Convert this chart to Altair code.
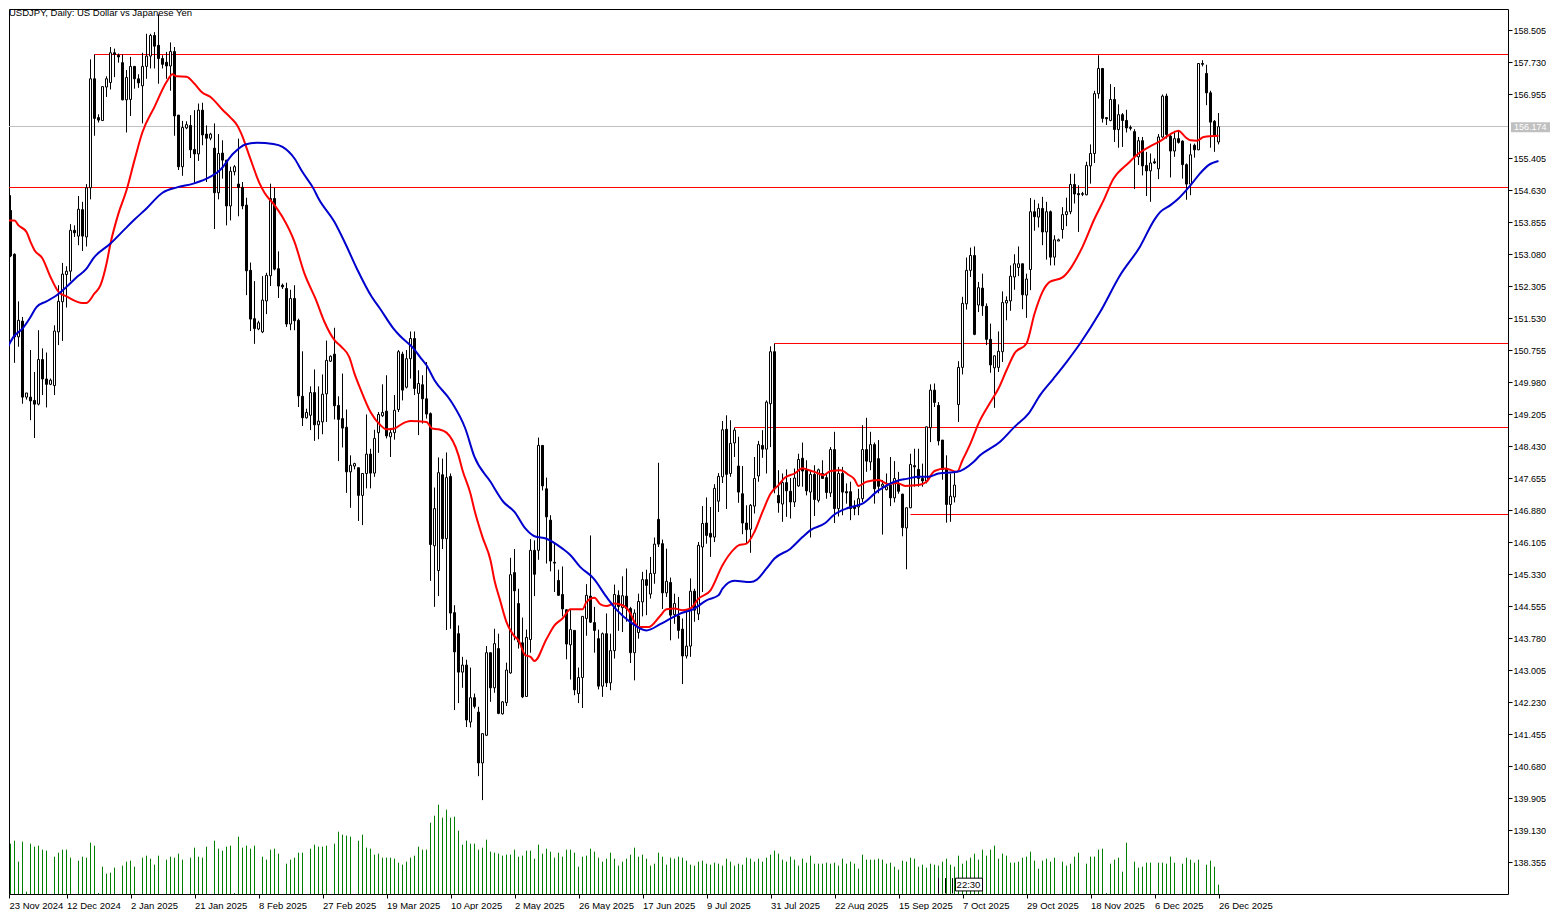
import json
import pandas as pd
import altair as alt

# daily candles, one value per slot on the time axis (weekend slots stay in)
opens = [
    154.55,154.17,154.14,153.08,151.08,151.46,149.62,149.62,149.54,149.45,
    150.53,150.06,149.93,149.90,151.20,151.93,152.59,152.67,153.66,153.52,
    154.16,153.50,154.69,157.33,156.39,156.32,157.13,157.24,157.96,157.90,
    157.72,156.82,156.83,157.63,157.33,157.16,157.63,157.88,158.38,158.14,
    157.82,157.73,157.64,157.99,156.45,155.20,156.14,156.20,155.62,155.51,
    156.57,155.99,155.89,155.65,154.57,155.53,155.36,154.25,155.08,154.78,
    154.70,154.27,152.69,151.52,151.27,151.20,151.95,152.56,154.43,152.73,
    152.33,152.25,151.39,152.01,151.48,149.64,149.12,149.18,149.73,148.95,
    149.02,149.70,150.49,150.66,149.42,149.10,148.89,147.81,147.95,147.91,
    147.24,147.77,148.24,147.78,148.76,149.17,149.28,148.66,148.76,149.32,
    150.66,149.86,150.55,151.04,149.71,149.92,149.58,149.22,146.02,145.42,
    147.74,146.19,147.70,144.40,143.89,142.96,143.13,141.75,142.34,141.99,
    140.76,141.43,143.43,142.58,143.53,141.95,142.22,142.94,145.37,144.62,
    143.67,142.37,143.75,145.91,145.91,148.45,147.40,146.64,145.62,145.18,
    144.84,144.47,143.62,143.97,142.44,142.83,144.26,144.80,144.16,143.77,
    142.62,143.89,142.70,143.48,144.82,144.52,144.80,144.50,143.43,143.92,
    144.66,145.20,144.85,145.35,146.66,146.07,144.88,145.13,144.35,144.32,
    144.00,143.35,143.59,144.92,144.37,145.99,146.57,146.32,146.23,147.10,
    147.69,148.84,147.77,148.51,147.95,147.28,146.57,146.42,146.98,147.71,
    148.45,148.36,149.46,150.72,147.24,147.03,147.55,147.34,147.08,147.47,
    148.14,147.85,147.32,147.75,147.12,147.77,147.67,147.30,148.35,146.92,
    147.77,147.33,147.33,146.96,146.96,147.16,148.35,148.05,148.47,148.13,
    147.46,147.38,147.49,147.18,147.53,147.27,146.45,146.94,147.96,147.87,
    147.65,147.59,148.88,149.79,149.42,148.58,147.87,147.02,147.20,149.44,
    150.34,151.88,152.69,153.05,151.85,152.26,151.82,151.02,150.33,150.34,
    150.72,151.90,151.95,152.53,152.76,152.85,152.09,152.71,154.11,153.98,
    154.19,153.62,154.11,153.01,153.40,153.68,154.04,154.11,154.77,154.55,
    154.53,154.52,155.22,155.52,156.97,157.58,156.39,156.32,156.83,156.10,
    156.46,156.32,156.15,156.05,155.44,155.83,155.23,155.10,155.32,155.15,
    155.92,156.91,155.94,155.58,155.88,155.82,155.25,154.78,155.72,155.61,
    157.70,157.46,156.99,156.30,155.80,
]
closes = [
    154.39,154.13,153.04,151.08,151.48,149.62,149.72,149.53,149.45,150.53,
    150.06,149.93,150.03,151.22,151.94,152.60,152.67,153.66,153.60,154.17,
    153.52,154.69,157.33,156.37,156.33,157.14,157.33,157.96,157.92,157.86,
    156.82,157.36,157.63,157.33,157.23,157.63,157.88,158.38,158.12,157.82,
    157.68,157.64,157.99,156.43,155.20,156.15,156.22,155.61,155.51,156.57,
    155.97,155.89,155.99,154.57,155.52,155.36,154.25,155.09,155.20,154.70,
    154.25,152.68,151.51,151.28,151.42,151.97,152.57,154.43,152.72,152.31,
    152.29,151.39,152.01,151.47,149.65,149.12,149.25,149.73,148.95,149.04,
    149.69,150.51,150.61,149.41,149.08,148.87,147.81,147.97,148.01,147.24,
    147.77,148.24,147.78,148.62,149.20,149.25,148.68,148.76,149.30,150.72,
    149.79,150.55,151.04,149.83,149.95,149.58,149.21,146.05,146.92,147.79,
    146.19,147.67,144.39,143.45,142.96,143.13,141.80,142.34,142.13,140.76,
    141.47,143.43,142.58,143.65,141.96,142.24,143.01,145.32,144.93,143.69,
    142.36,143.80,145.91,145.33,148.45,147.47,146.72,145.65,145.60,144.82,
    144.49,143.64,143.99,142.53,142.83,144.31,144.82,144.17,143.97,142.62,
    143.89,142.70,143.48,144.84,144.55,144.81,144.50,143.43,144.39,144.67,
    145.20,145.06,145.35,146.06,146.06,144.88,145.16,144.34,144.62,143.97,
    143.35,143.59,144.92,144.46,146.03,146.56,146.27,146.23,147.41,147.70,
    148.83,147.75,148.50,148.82,147.32,146.57,146.41,147.00,147.65,148.47,
    148.36,149.50,150.72,147.40,147.06,147.55,147.35,147.08,147.66,148.11,
    147.83,147.35,147.75,147.14,147.86,147.65,147.31,148.35,146.92,147.77,
    147.32,147.30,146.92,146.92,147.16,148.35,148.07,148.47,147.40,147.46,
    147.51,147.45,147.18,147.65,147.34,146.46,146.94,147.99,147.93,147.65,
    147.59,148.90,149.79,149.49,148.56,147.87,147.02,147.22,147.49,150.34,
    151.89,152.69,153.05,151.14,152.27,151.83,151.02,150.40,150.62,150.73,
    151.91,151.96,152.55,152.85,152.85,152.10,152.48,154.11,153.99,154.19,
    153.62,154.11,153.01,153.43,153.43,154.04,154.11,154.77,154.54,154.52,
    154.55,155.23,155.52,156.97,157.58,156.37,156.36,156.83,156.10,156.46,
    156.32,156.14,156.13,155.44,155.83,155.22,155.10,155.29,155.29,155.92,
    156.91,155.98,155.58,155.88,155.79,155.25,154.78,155.49,155.61,157.70,
    157.68,156.99,156.28,155.95,156.17,
]
highs = [
    154.85,154.71,154.51,153.10,151.94,151.56,149.72,150.76,150.23,151.24,
    150.80,150.70,150.07,151.36,152.33,152.87,152.79,153.81,153.78,154.49,
    154.35,154.78,157.80,157.92,156.47,157.14,157.39,158.10,158.06,157.94,
    157.92,157.54,157.86,157.63,157.44,157.96,158.42,158.42,158.46,158.89,
    157.90,157.98,158.21,158.10,156.45,156.31,156.30,156.45,156.57,156.73,
    156.75,156.20,156.02,156.25,155.99,155.84,155.36,155.20,155.24,155.88,
    154.83,154.45,152.88,152.43,151.47,152.55,152.63,154.79,154.69,153.15,
    152.37,152.39,152.22,152.33,151.52,150.73,149.34,149.88,150.29,149.88,
    150.17,150.99,150.63,151.30,149.64,150.19,149.32,148.21,148.03,147.91,
    147.77,149.20,148.37,148.83,149.26,149.93,150.15,148.86,149.67,150.76,
    150.72,150.76,151.21,151.21,150.27,150.15,150.47,149.25,147.43,148.16,
    148.13,148.28,147.77,144.58,144.09,143.33,143.26,143.07,142.44,142.12,
    141.47,143.59,143.43,144.01,143.89,142.26,143.19,145.73,145.94,144.98,
    144.28,143.99,146.18,146.15,148.64,148.45,147.67,146.76,146.11,145.44,
    145.52,144.47,144.47,143.97,143.07,144.31,145.09,146.27,144.54,143.99,
    143.92,144.38,143.89,145.08,144.94,145.28,145.47,144.54,144.48,144.86,
    145.39,145.44,145.75,146.22,148.03,146.17,145.95,145.25,144.86,144.78,
    144.26,144.46,145.23,144.98,146.11,146.98,147.19,146.96,147.51,147.78,
    149.04,149.18,149.06,148.88,148.66,147.95,147.00,147.03,148.17,148.56,
    148.82,149.54,150.85,150.92,147.85,147.77,147.87,147.66,147.89,148.25,
    148.52,148.09,147.85,147.97,147.89,148.09,147.77,148.41,148.78,147.93,
    147.93,147.53,147.57,147.12,147.40,148.94,149.12,148.78,148.52,148.58,
    147.61,147.77,148.17,148.07,147.81,147.28,146.94,148.25,148.37,148.37,
    148.01,148.91,149.93,149.95,149.50,148.58,148.21,147.77,147.81,150.49,
    152.05,153.00,153.24,153.27,152.41,152.61,151.89,151.40,150.63,151.21,
    152.18,152.06,152.81,153.08,153.27,152.85,152.61,154.44,154.40,154.31,
    154.47,154.35,154.14,153.54,153.46,154.22,154.45,155.03,155.03,154.75,
    154.59,155.32,155.74,157.04,157.90,157.58,156.39,157.20,157.13,156.71,
    156.50,156.58,156.20,156.11,155.92,155.92,155.56,155.52,155.40,155.99,
    156.95,156.97,156.00,156.07,156.08,155.84,155.28,155.76,155.76,157.71,
    157.78,157.67,157.04,156.33,156.50,
]
lows = [
    154.06,153.58,153.01,150.45,150.84,149.46,149.56,149.06,148.63,149.42,
    149.67,149.37,149.91,149.67,150.88,150.98,151.79,152.43,153.50,153.30,
    153.16,153.27,154.41,155.95,156.27,156.31,156.89,157.07,157.37,157.72,
    156.81,156.03,156.43,157.09,157.11,156.25,157.33,157.58,157.58,157.21,
    157.58,157.33,157.04,155.95,155.12,154.98,156.11,155.41,154.81,155.34,
    155.72,154.83,155.84,153.69,154.41,154.91,153.78,153.90,154.99,154.00,
    154.17,152.09,151.22,150.91,151.24,151.17,151.63,152.31,152.69,152.02,
    152.24,151.32,151.24,151.24,149.38,148.92,149.10,148.82,148.56,148.60,
    148.72,149.02,150.47,149.08,148.07,148.40,147.30,146.94,147.87,146.62,
    146.52,147.41,147.41,147.69,148.27,149.14,148.62,148.17,148.59,149.26,
    149.54,149.83,150.07,149.67,148.70,148.98,149.10,145.17,144.54,144.80,
    145.94,143.98,144.01,142.04,142.21,142.58,141.63,141.62,142.08,140.44,
    139.86,141.41,142.24,142.46,141.94,141.93,142.14,142.92,143.73,143.53,
    142.33,142.36,143.43,144.80,145.68,147.36,145.59,145.40,144.90,144.81,
    144.31,143.27,142.78,142.40,142.21,142.09,143.84,144.15,143.43,142.54,
    142.36,142.60,142.52,143.29,143.96,143.93,144.18,143.18,142.76,143.77,
    144.31,144.34,144.74,145.10,145.99,144.49,144.78,143.73,144.13,143.77,
    142.67,143.29,143.33,144.18,144.22,144.90,146.07,145.75,146.11,146.84,
    147.54,146.91,147.69,148.17,147.06,146.30,146.07,145.85,146.80,147.57,
    148.15,147.77,148.41,147.29,146.82,146.60,146.72,146.68,146.96,147.45,
    147.45,147.24,146.22,146.74,147.07,147.65,147.16,147.20,146.57,146.73,
    146.76,147.04,146.64,146.76,146.76,147.08,147.81,147.85,147.04,147.29,
    146.29,147.36,146.98,147.07,147.28,146.25,145.45,146.93,147.45,147.45,
    147.45,147.53,148.53,149.38,148.45,147.62,146.58,146.60,147.07,149.02,
    150.17,151.74,152.53,151.12,151.68,151.59,150.88,150.21,149.36,150.23,
    150.47,151.48,151.71,152.22,152.55,151.75,151.54,152.21,153.65,153.73,
    153.30,152.95,152.81,152.81,153.40,153.46,153.76,154.05,154.31,153.62,
    154.49,154.51,154.79,155.29,156.85,156.27,156.21,156.30,155.80,155.66,
    155.68,156.03,156.08,154.66,155.24,154.99,154.49,154.35,155.27,154.90,
    155.90,155.88,154.94,155.44,155.76,154.91,154.40,154.51,155.42,155.60,
    157.63,156.69,155.66,155.56,155.74,
]
# tick volume, no scale is shown in the picture so these are relative heights
volumes = [
    150,154,151,160,97,157,7,151,142,145,
    133,130,0,112,124,133,133,109,0,100,
    112,109,154,145,3,82,61,64,79,0,
    85,97,100,82,0,109,115,106,88,115,
    0,103,112,109,121,103,0,109,139,112,
    109,142,0,160,136,130,142,145,3,172,
    139,145,136,145,0,112,103,133,136,121,
    0,91,103,109,124,124,0,136,148,142,
    142,145,0,151,187,178,175,172,0,160,
    178,139,136,118,121,109,109,109,106,94,
    88,97,109,115,142,133,133,214,235,268,
    229,253,229,232,190,148,160,151,151,133,
    139,163,127,124,121,115,118,118,133,112,
    115,130,130,106,148,121,136,127,109,124,
    112,133,133,124,82,112,115,136,127,109,
    97,106,124,106,85,97,106,118,139,112,
    118,106,85,91,124,112,88,109,106,112,
    109,100,88,85,97,100,91,88,94,91,
    85,106,97,85,91,88,109,106,97,106,
    97,109,118,130,121,103,97,112,103,85,
    106,94,115,91,91,91,94,91,94,85,
    106,91,97,91,76,118,103,103,103,106,
    103,91,94,82,73,100,97,109,106,82,
    88,79,91,88,85,97,106,88,82,115,
    91,100,109,121,103,133,115,133,145,106,
    121,115,94,94,97,109,112,127,100,76,
    100,106,97,109,0,97,85,91,112,124,
    0,91,112,112,133,136,3,91,103,109,
    67,154,0,97,79,82,94,94,0,94,
    94,91,112,94,0,91,109,103,94,103,
    0,88,100,82,28,
]

ma_fast_slots = [
    0,3,4,6,7,8,10,12,14,16,20,21,23,24.5,26,27,29,31,33,35,38,41,42.5,43.5,46,48,50,52,55,57,
    58.7,59.7,61.8,64.3,65.5,68,70,73,75.5,78.4,80.5,83,84.7,86.7,88,89.6,92,94.5,96,98,100,102,
    106,107.4,109,111,114,115,117,118,120,122,123,124.4,126,127.8,129,130.7,132,133,136,138,140,
    142,145,146,148,149.5,151,153,155,157,158,159,161.5,164.4,166,168,170,172,174,177,180,183,
    184,186,188,190,192,194,195.5,198,200,201,203,205.3,207,209.5,211.5,213,214,216,219,221.5,
    223.6,225.7,229,231,233,235.7,238.6,240,242,244,247,249,251,253,256,258,260,261.8,265,266.8,
    268.5,270,273,275.3,277.7,281.5,284,287,289.4,292,294,295.7,297,298.6,300.3,304,
]
ma_fast = [
    153.90,153.90,153.78,153.62,153.38,153.18,152.98,152.53,152.17,152.06,151.90,151.90,152.13,152.33,152.85,153.34,154.07,154.63,155.36,156.04,156.65,157.25,157.44,157.39,157.38,157.21,156.99,156.89,156.58,156.39,
    156.20,156.00,155.44,154.79,154.57,154.27,153.98,153.38,152.61,151.97,151.44,151.00,150.84,150.59,150.19,149.79,149.26,148.94,148.84,148.86,148.98,149.04,
    149.02,148.86,148.84,148.76,148.21,147.85,147.28,146.88,146.23,145.67,145.18,144.70,144.17,143.85,143.73,143.37,143.33,143.23,143.76,144.09,144.26,
    144.48,144.48,144.66,144.76,144.60,144.56,144.62,144.58,144.38,144.17,144.05,144.05,144.32,144.48,144.50,144.46,144.50,144.74,144.94,145.55,145.95,
    146.03,146.07,146.36,146.84,147.28,147.49,147.66,147.77,147.90,147.87,147.81,147.73,147.83,147.85,147.74,147.63,147.47,147.57,147.61,147.51,
    147.54,147.47,147.49,147.57,147.83,147.89,147.81,148.09,148.50,148.98,149.50,149.83,150.27,150.68,150.92,151.64,152.17,152.41,152.52,152.71,
    152.98,153.26,153.94,154.39,154.90,155.29,155.52,155.70,155.82,155.99,156.07,155.92,155.84,155.83,155.92,155.95,
]
ma_slow_slots = [
    0,1,2.75,5,7,8.5,11,13,16,18.6,21,22.7,27,30.7,33,36,40,43.6,47.7,51,54.4,57.7,60.7,63.6,67.7,70,73,75,77.75,79,
    83,85.7,88.6,92.3,94.4,97.75,99.4,102.75,104.4,106,108,112,115.7,118,122,125.25,128,130.7,133,136,140,142,144.4,147.75,
    151,153.6,157,161,164.4,166.5,169,173,176,179,180,183,187,188.6,191,193,197,200,202,205.7,207.75,211.5,215,219,223.6,226,
    229,231.5,234,238.6,242.75,244.4,249.4,253,256.5,259.4,262.75,266,269.4,274.4,279.4,284.4,288,289.4,292,294,297,299.4,301.5,304,
]
ma_slow = [
    150.51,150.76,151.08,151.28,151.56,151.80,151.94,152.05,152.29,152.53,152.73,152.98,153.34,153.70,153.92,154.19,154.57,154.70,154.79,154.91,155.12,155.52,155.74,155.78,155.75,155.68,155.40,155.07,154.67,154.43,
    153.86,153.34,152.73,152.05,151.76,151.28,151.10,150.80,150.59,150.39,150.03,149.54,148.86,148.17,147.57,147.08,146.84,146.44,146.25,146.19,145.95,145.79,145.51,145.23,
    144.78,144.46,144.17,143.97,144.12,144.23,144.36,144.50,144.70,144.82,144.98,145.17,145.14,145.20,145.47,145.71,145.95,146.23,146.40,146.57,146.76,146.94,147.04,147.36,147.59,147.64,
    147.69,147.69,147.77,147.81,148.05,148.21,148.54,148.90,149.22,149.67,150.07,150.47,150.92,151.68,152.57,153.27,153.92,154.10,154.27,154.43,154.75,155.04,155.24,155.34,
]

# drawn levels: price and the slot each one starts from
level_prices = [157.918, 154.697, 150.919, 148.884, 146.777]
level_starts = [23, 0, 193, 183, 227]
current_price = 156.174

price_ticks = [
    158.505, 157.730, 156.955, 155.405, 154.630, 153.855, 153.080, 152.305, 151.530,
    150.755, 149.980, 149.205, 148.430, 147.655, 146.880, 146.105, 145.330, 144.555,
    143.780, 143.005, 142.230, 141.455, 140.680, 139.905, 139.130, 138.355,
]
date_ticks = [1.625, 16, 32, 48, 64, 80, 96, 112, 128, 144, 160, 176, 192, 208, 224, 240, 256, 272, 288, 304]
date_labels = [
    "23 Nov 2024", "12 Dec 2024", "2 Jan 2025", "21 Jan 2025", "8 Feb 2025", "27 Feb 2025", "19 Mar 2025",
    "10 Apr 2025", "2 May 2025", "26 May 2025", "17 Jun 2025", "9 Jul 2025", "31 Jul 2025", "22 Aug 2025",
    "15 Sep 2025", "7 Oct 2025", "29 Oct 2025", "18 Nov 2025", "6 Dec 2025", "26 Dec 2025",
]

FONT = "Liberation Sans"
SLOT_MIN, SLOT_MAX = 1.625, 376.375
PRICE_MIN, PRICE_MAX = 137.586, 159.02
x_scale = alt.Scale(domain=[SLOT_MIN, SLOT_MAX], nice=False, zero=False, padding=0)
y_scale = alt.Scale(domain=[PRICE_MIN, PRICE_MAX], nice=False, zero=False, padding=0)

candles = pd.DataFrame({
    "slot": range(len(opens)), "open": opens, "close": closes, "high": highs, "low": lows,
})
candles["dir"] = ["up" if c >= o else "down" for o, c in zip(opens, closes)]

vol_df = pd.DataFrame({"slot": range(len(volumes)), "volume": volumes, "base": 0})
volume = alt.Chart(vol_df).mark_rule(color="#008000", strokeWidth=1, clip=True).encode(
    x=alt.X("slot:Q", scale=x_scale, title=None, axis=alt.Axis(
        values=date_ticks,
        labelExpr=f"{json.dumps(date_labels)}[floor(datum.value / 16)]",
        labelAlign="left", labelFlush=False, labelOverlap=False, grid=False, domain=False,
        tickSize=4, tickColor="black", labelPadding=2, labelFont=FONT, labelFontSize=9.5, labelColor="black",
    )),
    y=alt.Y("volume:Q", scale=alt.Scale(domain=[0, 2655], nice=False), axis=None),
    y2="base:Q",
)

levels_df = pd.DataFrame({"price": level_prices, "start": level_starts, "end": SLOT_MAX})
levels = alt.Chart(levels_df).mark_rule(color="#ff0000", strokeWidth=1, clip=True).encode(
    x=alt.X("start:Q", scale=x_scale, axis=None),
    x2="end:Q",
    y=alt.Y("price:Q", scale=y_scale, axis=alt.Axis(
        values=price_ticks, format=".3f", orient="right", grid=False, domain=False, title=None,
        tickSize=4, tickColor="black", labelPadding=1, labelFont=FONT, labelFontSize=9, labelColor="black",
    )),
)

current_df = pd.DataFrame({"price": [current_price], "start": [0], "end": [SLOT_MAX],
                           "top": [156.277], "bottom": [156.035], "label": [f"{current_price:.3f}"]})
current_line = alt.Chart(current_df).mark_rule(color="#c0c0c0", strokeWidth=1, clip=True).encode(
    x=alt.X("start:Q", scale=x_scale, axis=None),
    x2="end:Q",
    y=alt.Y("price:Q", scale=y_scale, axis=None),
)
current_box = alt.Chart(current_df).mark_rect(color="#c0c0c0").encode(
    x=alt.value(1502), x2=alt.value(1541),
    y=alt.Y("top:Q", scale=y_scale, axis=None), y2="bottom:Q",
)
current_text = alt.Chart(current_df).mark_text(
    align="left", baseline="middle", color="white", font=FONT, fontSize=9
).encode(
    x=alt.value(1505),
    y=alt.Y("price:Q", scale=y_scale, axis=None),
    text="label:N",
)

wicks = alt.Chart(candles).mark_rule(color="black", strokeWidth=1, clip=True).encode(
    x=alt.X("slot:Q", scale=x_scale, axis=None),
    y=alt.Y("high:Q", scale=y_scale, axis=None),
    y2="low:Q",
)
bodies = alt.Chart(candles).mark_bar(size=2, stroke="black", strokeWidth=1, clip=True).encode(
    x=alt.X("slot:Q", scale=x_scale, axis=None),
    y=alt.Y("open:Q", scale=y_scale, axis=None),
    y2="close:Q",
    fill=alt.Fill("dir:N", scale=alt.Scale(domain=["up", "down"], range=["white", "black"]), legend=None),
)

fast_df = pd.DataFrame({"slot": ma_fast_slots, "ma": ma_fast})
slow_df = pd.DataFrame({"slot": ma_slow_slots, "ma": ma_slow})
fast_line = alt.Chart(fast_df).mark_line(color="#ff0000", strokeWidth=2, clip=True, interpolate="monotone").encode(
    x=alt.X("slot:Q", scale=x_scale, axis=None),
    y=alt.Y("ma:Q", scale=y_scale, axis=None),
)
slow_line = alt.Chart(slow_df).mark_line(color="#0000cd", strokeWidth=2, clip=True, interpolate="monotone").encode(
    x=alt.X("slot:Q", scale=x_scale, axis=None),
    y=alt.Y("ma:Q", scale=y_scale, axis=None),
)

title = alt.Chart(pd.DataFrame({"t": ["USDJPY, Daily:  US Dollar vs Japanese Yen"]})).mark_text(
    align="left", baseline="middle", color="black", font=FONT, fontSize=9.5
).encode(x=alt.value(0), y=alt.value(4), text="t:N")

# the countdown tag MT5 leaves on the time scale
hatch_df = pd.DataFrame({"slot": [234, 235.75, 237.5], "top": 137.97, "bottom": 137.60})
hatches = alt.Chart(hatch_df).mark_rule(color="black", strokeWidth=1).encode(
    x=alt.X("slot:Q", scale=x_scale, axis=None),
    y=alt.Y("top:Q", scale=y_scale, axis=None),
    y2="bottom:Q",
)
tag_df = pd.DataFrame({"left": [238.25], "right": [245], "top": [137.97], "bottom": [137.66],
                       "mid": [241.5], "price": [137.81], "label": ["22:30"]})
tag_box = alt.Chart(tag_df).mark_rect(fill="white", stroke="black", strokeWidth=1).encode(
    x=alt.X("left:Q", scale=x_scale, axis=None), x2="right:Q",
    y=alt.Y("top:Q", scale=y_scale, axis=None), y2="bottom:Q",
)
tag_text = alt.Chart(tag_df).mark_text(color="black", font=FONT, fontSize=9.5, baseline="middle").encode(
    x=alt.X("mid:Q", scale=x_scale, axis=None),
    y=alt.Y("price:Q", scale=y_scale, axis=None),
    text="label:N",
)

chart = alt.layer(
    volume, current_line, levels, wicks, bodies, fast_line, slow_line,
    hatches, tag_box, tag_text, title, current_box, current_text,
).resolve_scale(y="independent").resolve_axis(x="independent").properties(
    width=1499, height=885, padding=0, background="white"
).configure_view(stroke="black", strokeWidth=1)

chart.save("out.html", embed_options={"renderer": "svg", "actions": False})
